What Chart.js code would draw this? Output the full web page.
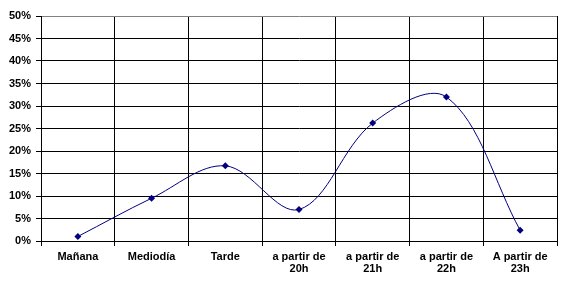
<!DOCTYPE html>
<html>
<head>
<meta charset="utf-8">
<script src="https://cdn.jsdelivr.net/npm/chart.js@4"></script>
<style>
  html, body { margin: 0; padding: 0; background: #fff; }
  #wrap { width: 562px; height: 288px; }
</style>
</head>
<body>
<div id="wrap"><canvas id="chart" width="562" height="288"></canvas></div>
<script>
const categories = ['Mañana', 'Mediodía', 'Tarde', ['a partir de', '20h'], ['a partir de', '21h'], ['a partir de', '22h'], ['A partir de', '23h']];
const percentages = [1.0, 9.5, 16.7, 7.0, 26.2, 32.0, 2.4];
const yMax = 50;
const yStep = 5;

const font = { family: '"Liberation Sans", Arial, sans-serif', size: 11, weight: 'bold', lineHeight: 1.1 };

new Chart(document.getElementById('chart').getContext('2d'), {
  type: 'line',
  data: {
    labels: categories,
    datasets: [{
      data: percentages,
      borderColor: '#000080',
      backgroundColor: '#000080',
      borderWidth: 1,
      tension: 0.35,
      pointStyle: 'rectRot',
      pointRadius: 3.5,
      pointBorderWidth: 0,
      fill: false
    }]
  },
  options: {
    responsive: false,
    animation: false,
    layout: { padding: { top: 16, right: 5, bottom: 0, left: 0 } },
    plugins: { legend: { display: false }, tooltip: { enabled: false } },
    scales: {
      x: {
        offset: true,
        afterFit: function (scale) { scale.height = 47; },
        grid: {
          offset: true,
          tickLength: 5,
          tickColor: '#000',
          color: function (ctx) { return ctx.index === categories.length ? '#808080' : '#000'; },
          lineWidth: 1
        },
        border: { color: '#000', width: 1 },
        ticks: { color: '#000', font: font, padding: 5, maxRotation: 0, autoSkip: false }
      },
      y: {
        min: 0,
        max: yMax,
        afterFit: function (scale) { scale.width = 41; },
        grid: {
          tickLength: 5,
          tickColor: '#000',
          color: function (ctx) { return ctx.tick && ctx.tick.value === yMax ? '#808080' : '#000'; },
          lineWidth: 1
        },
        border: { color: '#000', width: 1 },
        ticks: {
          stepSize: yStep,
          color: '#000',
          font: { family: font.family, size: 11, weight: 'bold' },
          padding: 5,
          callback: function (v) { return v + '%'; }
        }
      }
    }
  }
});
</script>
</body>
</html>
